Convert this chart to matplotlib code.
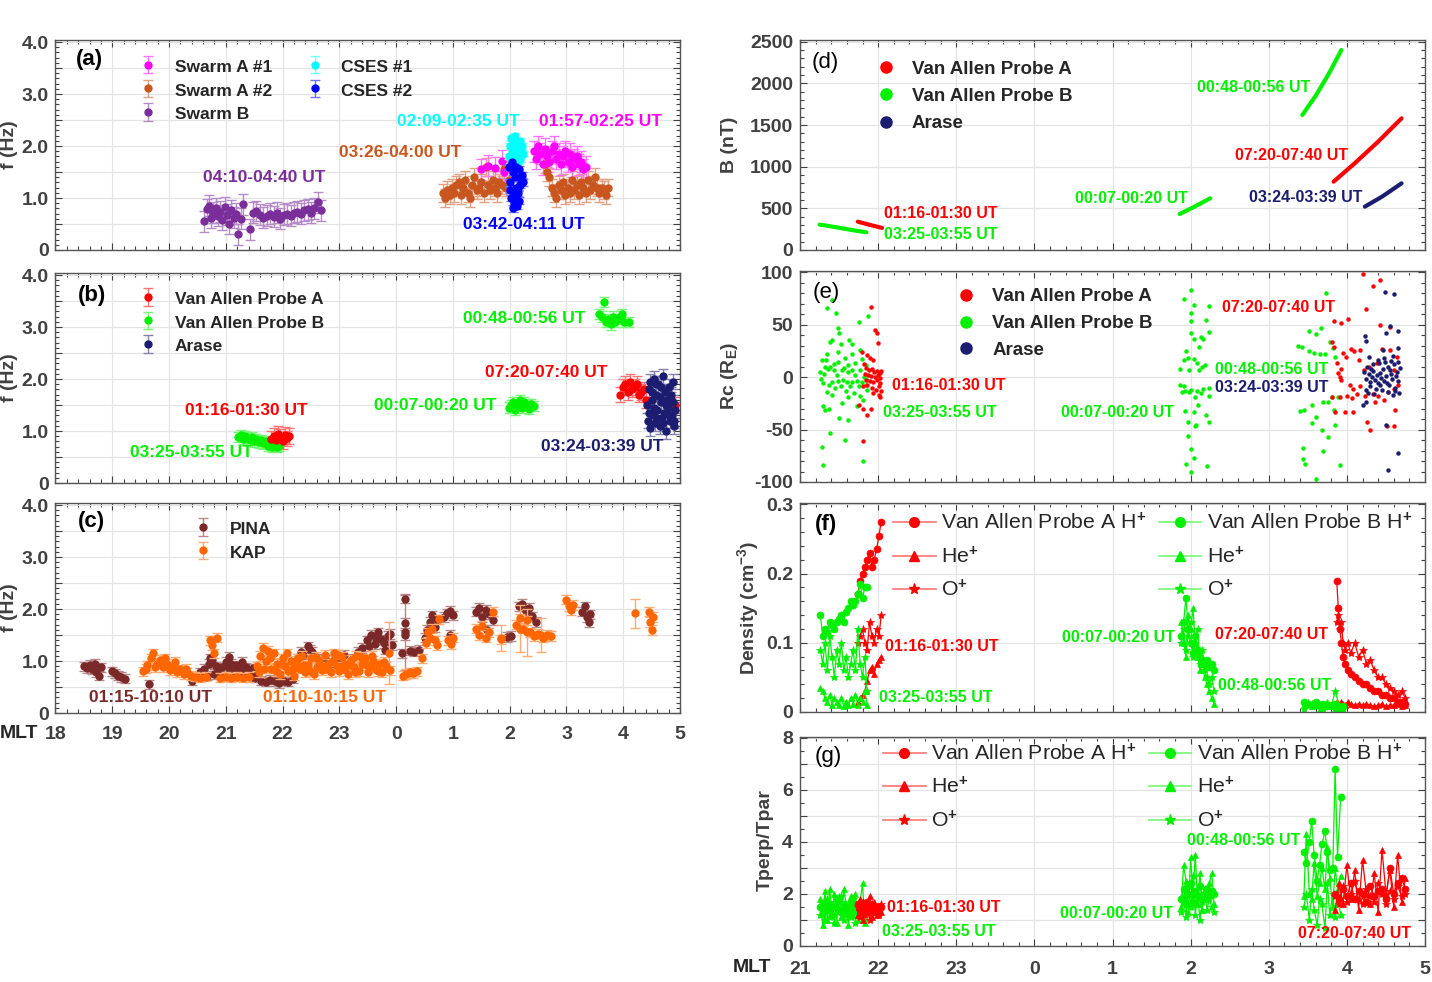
import matplotlib
matplotlib.use('Agg')
import matplotlib.pyplot as plt
import matplotlib.colors as mcolors
from matplotlib.lines import Line2D
from matplotlib.ticker import MultipleLocator, FuncFormatter

plt.rcParams['font.family'] = ['Liberation Sans', 'DejaVu Sans']
plt.rcParams['font.weight'] = 'bold'
plt.rcParams['mathtext.fontset'] = 'custom'
plt.rcParams['mathtext.rm'] = 'Liberation Sans'
plt.rcParams['mathtext.it'] = 'Liberation Sans:italic'
plt.rcParams['mathtext.bf'] = 'Liberation Sans:bold'
plt.rcParams['axes.linewidth'] = 1.0

# ---------------- colours ----------------
C_SA1 = '#FF00FF'
C_SA2 = '#C8561E'
C_SB = '#7A2E9A'
C_C1 = '#00FFFF'
C_C2 = '#0000FF'
C_VA = '#FF0000'
C_VB = '#00F000'
C_AR = '#1C1C70'
C_PINA = '#7B2828'
C_KAP = '#FF6600'

# ---------------- axis ticks ----------------
LEFT_TICKS = [18, 19, 20, 21, 22, 23, 24, 25, 26, 27, 28, 29]
LEFT_TICKLABELS = ['18', '19', '20', '21', '22', '23', '0', '1', '2', '3', '4', '5']
RIGHT_TICKS = [21, 22, 23, 24, 25, 26, 27, 28, 29]
RIGHT_TICKLABELS = ['21', '22', '23', '0', '1', '2', '3', '4', '5']

# ---------------- panel (a) : MLT (h, 24 = 0 MLT), f (Hz) ----------------
SB_X = [20.62, 20.66, 20.70, 20.74, 20.78, 20.82, 20.86, 20.90, 20.94, 20.98,
        21.02, 21.06, 21.10, 21.14, 21.18, 21.22, 21.26, 21.30, 21.42, 21.48,
        21.54, 21.60, 21.66, 21.72, 21.78, 21.84, 21.90, 21.96, 22.02, 22.08,
        22.14, 22.20, 22.26, 22.32, 22.38, 22.44, 22.50, 22.56, 22.62, 22.68]
SB_Y = [0.55, 0.78, 0.85, 0.62, 0.72, 0.80, 0.66, 0.74, 0.58, 0.82,
        0.68, 0.50, 0.76, 0.62, 0.70, 0.30, 0.60, 0.88, 0.40, 0.72,
        0.75, 0.68, 0.62, 0.66, 0.70, 0.64, 0.72, 0.60, 0.68, 0.70,
        0.66, 0.72, 0.74, 0.70, 0.76, 0.78, 0.72, 0.80, 0.92, 0.76]
SB_ERR = 0.2

SA2_X = [24.82, 24.86, 24.90, 24.94, 24.98, 25.02, 25.06, 25.10, 25.14, 25.18,
         25.22, 25.26, 25.30, 25.34, 25.38, 25.42, 25.46, 25.50, 25.54, 25.58,
         25.62, 25.66, 25.70, 25.74, 25.78, 25.82, 25.86, 25.90, 25.94, 25.98,
         26.62, 26.66, 26.70, 26.74, 26.78, 26.82, 26.86, 26.90, 26.94, 26.98,
         27.02, 27.06, 27.10, 27.14, 27.18, 27.22, 27.26, 27.30, 27.34, 27.38,
         27.42, 27.46, 27.50, 27.54, 27.58, 27.62, 27.66, 27.70, 27.74]
SA2_Y = [1.10, 1.00, 1.15, 1.05, 1.20, 1.10, 1.25, 1.30, 1.05, 1.20,
         1.35, 1.10, 1.00, 1.25, 1.40, 1.15, 1.20, 1.30, 1.10, 1.60,
         1.25, 1.15, 1.35, 1.20, 1.10, 1.30, 1.25, 1.55, 1.20, 1.35,
         1.65, 1.50, 1.40, 1.20, 1.10, 1.00, 1.25, 1.15, 1.30, 1.05,
         1.20, 1.10, 1.35, 1.15, 1.25, 1.05, 1.30, 1.20, 1.10, 1.35,
         1.15, 1.25, 1.40, 1.20, 1.10, 1.20, 1.15, 1.05, 1.20]
SA2_ERR = 0.17

SA1_X = [25.50, 25.62, 25.74, 25.86, 25.90,
         26.42, 26.46, 26.50, 26.54, 26.58, 26.62, 26.66, 26.70, 26.74, 26.78,
         26.82, 26.86, 26.90, 26.94, 26.98, 27.02, 27.06, 27.10, 27.14, 27.18,
         27.22, 27.26, 27.30, 27.34]
SA1_Y = [1.55, 1.62, 1.58, 1.72, 1.50,
         1.90, 1.75, 2.00, 1.85, 1.65, 1.95, 1.80, 1.70, 1.90, 2.00,
         1.75, 1.85, 1.65, 1.80, 1.90, 1.70, 1.85, 1.60, 1.75, 1.80,
         1.65, 1.70, 1.55, 1.60]
SA1_ERR = 0.2

C1_X = [25.98, 26.00, 26.02, 26.04, 26.06, 26.08, 26.10, 26.12, 26.14, 26.16,
        26.18, 26.20, 26.22, 26.24, 26.03, 26.07, 26.11, 26.15, 26.19]
C1_Y = [1.80, 2.00, 2.15, 1.90, 2.10, 1.85, 2.20, 1.95, 2.05, 1.75,
        2.10, 1.90, 2.00, 1.85, 1.70, 1.75, 1.80, 1.70, 1.75]
C1_ERR = 0.05

C2_X = [25.99, 26.01, 26.03, 26.05, 26.07, 26.09, 26.11, 26.13, 26.15, 26.17,
        26.19, 26.21, 26.23, 26.00, 26.04, 26.08, 26.12, 26.16, 26.20, 26.06,
        26.10, 26.14]
C2_Y = [1.60, 1.30, 1.00, 1.50, 0.90, 1.40, 1.20, 0.85, 1.10, 1.55,
        1.25, 1.45, 1.30, 1.15, 1.70, 1.05, 1.60, 0.95, 1.35, 0.80,
        1.00, 1.20]
C2_ERR = 0.06

# ---------------- panel (b) ----------------
VB1_X = [21.22, 21.26, 21.30, 21.34, 21.38, 21.42, 21.46, 21.50, 21.54, 21.58,
         21.62, 21.66, 21.70, 21.74, 21.78, 21.82, 21.86, 21.90, 21.94]
VB1_Y = [0.88, 0.92, 0.85, 0.90, 0.87, 0.83, 0.88, 0.80, 0.84, 0.78,
         0.82, 0.76, 0.80, 0.72, 0.76, 0.70, 0.74, 0.69, 0.72]
VA1_X = [21.80, 21.84, 21.88, 21.92, 21.96, 22.00, 22.04, 22.08, 22.12]
VA1_Y = [0.85, 0.90, 0.82, 0.95, 0.88, 0.80, 0.92, 0.86, 0.90]
VB2_X = [25.98, 26.02, 26.06, 26.10, 26.14, 26.18, 26.22, 26.26, 26.30, 26.34, 26.38, 26.42]
VB2_Y = [1.45, 1.50, 1.55, 1.40, 1.50, 1.60, 1.45, 1.55, 1.50, 1.42, 1.52, 1.48]
VB3_X = [27.58, 27.62, 27.66, 27.70, 27.74, 27.78, 27.82, 27.86, 27.90, 27.94, 27.98, 28.02, 28.10]
VB3_Y = [3.25, 3.20, 3.48, 3.10, 3.15, 3.05, 3.20, 3.10, 3.15, 3.20, 3.25, 3.10, 3.10]
VA2_X = [27.95, 28.00, 28.04, 28.08, 28.12, 28.16, 28.20, 28.24, 28.28, 28.32, 28.36, 28.40, 28.92]
VA2_Y = [1.70, 1.85, 1.90, 1.75, 1.95, 1.80, 1.85, 1.90, 1.70, 1.75, 1.80, 1.60, 1.50]
AR_X = [28.42, 28.44, 28.46, 28.48, 28.50, 28.52, 28.54, 28.56, 28.58, 28.60,
        28.62, 28.64, 28.66, 28.68, 28.70, 28.72, 28.74, 28.76, 28.78, 28.80,
        28.82, 28.84, 28.86, 28.88, 28.90, 28.92, 28.45, 28.50, 28.55, 28.60,
        28.65, 28.70, 28.75, 28.80, 28.85, 28.90, 28.47, 28.57, 28.67, 28.77, 28.87]
AR_Y = [1.50, 1.20, 1.80, 1.05, 1.60, 1.30, 2.00, 1.15, 1.70, 1.40,
        1.90, 1.10, 1.55, 1.25, 2.05, 1.35, 1.75, 1.00, 1.45, 1.85,
        1.20, 1.60, 1.30, 1.95, 1.10, 1.40, 1.35, 1.75, 1.45, 1.25,
        1.65, 1.15, 1.50, 1.30, 1.70, 1.20, 1.95, 1.90, 1.85, 1.60, 1.55]
VB_ERR = 0.1
VA_ERR = 0.15
AR_ERR = 0.15

# ---------------- panel (c) ----------------
PINA_X = [18.50, 18.55, 18.60, 18.65, 18.70, 18.72, 18.76, 18.80, 19.00, 19.05,
          19.10, 19.15, 19.22, 19.65, 20.40, 20.55, 20.62, 20.70, 20.76, 20.82,
          20.88, 20.94, 21.00, 21.06, 21.12, 21.18, 21.24, 21.30, 21.36, 21.42,
          21.48, 21.54, 21.50, 21.62, 21.70, 21.78, 21.86, 21.94, 22.02, 22.10,
          22.18, 22.20, 22.28, 22.36, 22.44, 22.52, 22.60, 22.68, 22.76, 22.84,
          22.92, 23.00, 23.08, 23.16, 23.24, 23.32, 23.40, 23.48, 23.55, 23.62,
          23.68, 23.74, 23.80, 23.86, 23.92, 24.15, 24.15, 24.15, 24.10, 24.25,
          24.32, 24.40, 24.50, 24.55, 24.60, 24.64, 24.68, 24.72, 24.85, 24.90,
          24.95, 25.00, 24.94, 25.40, 25.46, 25.52, 25.58, 25.64, 25.70, 25.60,
          25.96, 26.02, 26.16, 26.22, 26.28, 26.34, 26.40, 26.46, 27.28, 27.32,
          27.36, 27.40, 27.42, 20.66, 20.80, 20.98, 21.15, 21.33, 20.72, 21.05,
          21.28, 21.10, 22.32, 22.48, 23.52, 23.64, 23.78, 23.90]
PINA_Y = [0.90, 0.86, 0.93, 0.84, 0.95, 0.78, 0.72, 0.88, 0.80, 0.76,
          0.72, 0.69, 0.66, 0.55, 0.62, 0.78, 0.85, 0.95, 1.02, 0.90,
          0.80, 0.88, 0.98, 0.86, 0.78, 0.92, 0.84, 0.76, 0.88, 0.80,
          0.86, 0.76, 0.68, 0.62, 0.60, 0.64, 0.61, 0.58, 0.62, 0.60,
          0.66, 0.95, 1.05, 1.12, 1.28, 1.18, 1.05, 0.95, 1.02, 0.92,
          1.08, 0.98, 1.12, 0.90, 1.05, 1.18, 1.25, 1.40, 1.50, 1.32,
          1.55, 1.42, 1.22, 1.48, 1.30, 2.20, 1.73, 1.50, 1.15, 1.20,
          1.18, 1.22, 1.45, 1.60, 1.75, 1.88, 1.65, 1.80, 1.85, 1.92,
          1.96, 1.88, 1.50, 1.95, 2.02, 1.85, 1.98, 1.90, 1.78, 1.60,
          1.46, 1.48, 2.05, 2.10, 1.96, 2.02, 1.86, 1.75, 1.95, 2.05,
          1.85, 1.75, 1.90, 0.72, 0.75, 0.72, 0.70, 0.72, 1.05, 1.08,
          0.98, 0.95, 1.18, 1.22, 1.28, 1.45, 1.35, 1.52]
PINA_ERR = 0.09
PINA_WIDE_X = [24.15]
PINA_WIDE_Y = [1.55]
PINA_WIDE_E = [0.72]

KAP_X = [19.55, 19.62, 19.68, 19.72, 19.78, 19.84, 19.90, 19.96, 20.02, 20.08,
         20.14, 20.20, 20.26, 20.32, 20.38, 20.45, 20.55, 20.65, 20.72, 20.76,
         20.80, 20.85, 20.90, 21.00, 21.10, 21.20, 21.30, 21.40, 21.55, 21.60,
         21.65, 21.70, 21.75, 21.80, 21.85, 21.90, 21.95, 22.00, 22.05, 22.10,
         22.15, 22.20, 22.25, 22.30, 22.35, 22.40, 22.45, 22.50, 22.55, 22.60,
         22.65, 22.70, 22.75, 22.80, 22.85, 22.90, 22.95, 23.00, 23.05, 23.10,
         23.15, 23.20, 23.25, 23.30, 23.35, 23.40, 23.45, 23.50, 23.55, 23.60,
         23.65, 23.70, 23.75, 23.82, 23.90, 24.12, 24.18, 24.24, 24.30, 24.36,
         24.45, 24.52, 24.56, 24.60, 24.64, 24.68, 24.72, 24.75, 24.92, 24.96,
         25.00, 25.40, 25.46, 25.52, 25.58, 25.64, 25.70, 25.85, 26.12, 26.18,
         26.24, 26.30, 26.36, 26.42, 26.50, 26.58, 26.66, 26.72, 27.00, 27.04,
         27.08, 27.12, 28.45, 28.48, 28.50, 28.52, 21.58, 21.68, 21.78, 21.88,
         21.98, 22.08, 22.18, 22.28, 22.38, 22.48, 22.58, 22.68, 22.78, 22.88,
         22.98, 23.08, 23.18, 23.28, 23.38, 23.48, 23.58, 23.68, 23.78, 19.60,
         19.75, 19.92, 20.10, 20.30]
KAP_Y = [0.80, 0.92, 1.05, 1.15, 0.95, 1.02, 0.88, 0.95, 0.82, 0.90,
         0.78, 0.84, 0.75, 0.78, 0.72, 0.70, 0.68, 0.70, 1.40, 1.30,
         1.15, 1.45, 0.68, 0.70, 0.68, 0.70, 0.68, 0.69, 0.90, 1.10,
         1.25, 1.00, 1.20, 0.85, 1.15, 0.95, 0.75, 1.05, 0.90, 0.80,
         1.00, 0.72, 0.95, 0.85, 1.10, 0.78, 0.92, 1.05, 0.75, 0.88,
         1.00, 0.82, 1.12, 0.95, 0.78, 1.15, 0.90, 0.80, 1.08, 0.95,
         0.75, 1.02, 0.88, 1.10, 0.80, 0.95, 1.05, 0.78, 0.90, 1.00,
         0.85, 0.95, 0.78, 0.90, 0.82, 0.72, 0.75, 0.78, 0.76, 0.80,
         1.05, 1.35, 1.55, 1.45, 1.62, 1.40, 1.30, 1.80, 1.40, 1.32,
         1.45, 1.62, 1.50, 1.68, 1.45, 1.55, 1.95, 1.42, 1.70, 1.82,
         1.62, 1.78, 1.55, 1.48, 1.52, 1.45, 1.50, 1.48, 2.18, 2.05,
         1.98, 2.08, 1.95, 1.75, 1.60, 1.85, 0.78, 0.85, 1.05, 0.80,
         0.95, 1.15, 0.85, 1.05, 0.92, 0.80, 1.08, 0.90, 0.85, 1.00,
         1.12, 0.85, 0.92, 0.78, 1.08, 0.92, 1.10, 0.80, 0.98, 0.85,
         0.88, 1.05, 0.98, 0.85]
KAP_ERR = 0.09
KAP_WIDE_X = [23.88, 25.85, 26.18, 26.30, 26.55, 28.20]
KAP_WIDE_Y = [1.15, 1.45, 1.62, 1.55, 1.50, 1.92]
KAP_WIDE_E = [0.60, 0.25, 0.45, 0.45, 0.32, 0.28]

# ---------------- panel (d) : B (nT) ----------------
VBD1_X = [21.25, 21.45, 21.65, 21.85]
VBD1_Y = [305, 275, 242, 212]
VAD1_X = [21.74, 21.90, 22.05]
VAD1_Y = [340, 300, 265]
VBD2_X = [25.86, 26.05, 26.25]
VBD2_Y = [432, 520, 620]
VBD3_X = [27.43, 27.60, 27.76, 27.93]
VBD3_Y = [1620, 1850, 2100, 2400]
VAD2_X = [27.83, 28.10, 28.40, 28.70]
VAD2_Y = [820, 1040, 1300, 1580]
ARD_X = [28.23, 28.45, 28.70]
ARD_Y = [520, 640, 800]

# ---------------- panel (e) : Rc (RE) ----------------
VBE1_X = [21.41, 21.35, 21.46, 21.76, 21.87, 21.49, 21.50, 21.38, 21.41, 21.63,
          21.67, 21.52, 21.77, 21.49, 21.28, 21.33, 21.39, 21.32, 21.44, 21.49,
          21.56, 21.61, 21.67, 21.71, 21.79, 21.84, 21.77, 21.62, 21.54, 21.44,
          21.36, 21.30, 21.37, 21.41, 21.49, 21.55, 21.60, 21.67, 21.73, 21.79,
          21.86, 21.45, 21.53, 21.64, 21.75, 21.84, 21.35, 21.41, 21.62, 21.77,
          21.86, 21.29, 21.37, 21.32, 21.54, 21.73, 21.50, 21.62, 21.39, 21.57,
          21.28, 21.29, 21.81, 21.25, 21.27, 21.31, 21.58, 21.66, 21.70, 21.82,
          21.47, 21.34, 21.59, 21.69, 21.80]
VBE1_Y = [73, 66, 61, 52, 58, 47, 42, 33, 35, 35,
          31, 31, 26, 24, 16, 16, 10, 10, 12, 14,
          9, 11, 7, 13, 17, 11, 7, 5, 7, 7,
          8, -6, -8, -5, -4, -3, -5, -5, -4, -5,
          -3, -10, -9, -9, -9, -8, -14, -17, -19, -18,
          -12, -28, -30, -31, -25, -28, -39, -41, -53, -60,
          -67, -84, -80, 5, -2, 3, 18, 22, 2, 0,
          2, 22, -13, -15, -22]
VAE1_X = [21.91, 21.96, 21.98, 22.00, 21.79, 21.86, 21.90, 21.93, 21.85, 21.88,
          21.92, 21.95, 21.99, 22.02, 22.04, 21.83, 21.87, 21.91, 21.96, 22.00,
          22.03, 21.84, 21.89, 21.94, 21.98, 22.02, 21.86, 21.92, 21.97, 22.01,
          22.04, 21.94, 22.01, 22.03, 21.75, 21.80, 21.91, 21.86, 21.81, 21.80,
          21.82]
VAE1_Y = [67, 45, 42, 32, 24, 21, 18, 16, 9, 7,
          8, 5, 6, 4, 6, 3, 2, 1, 0, 2,
          -1, -3, -4, -5, -3, -6, -8, -10, -12, -9,
          -13, -15, -17, -19, -27, -30, -30, -36, -61, -9,
          12]
VBE2_X = [26.00, 25.91, 26.04, 26.23, 26.01, 26.00, 26.20, 26.23, 26.00, 26.04,
          26.13, 26.16, 26.11, 25.94, 25.91, 25.96, 26.04, 26.08, 26.14, 26.19,
          25.87, 25.98, 26.11, 25.87, 25.92, 25.89, 25.93, 25.98, 26.01, 26.08,
          26.13, 26.16, 26.24, 26.06, 26.24, 26.09, 25.93, 26.04, 26.20, 25.97,
          26.23, 26.07, 26.06, 25.96, 26.01, 26.04, 25.94, 26.21, 26.01]
VBE2_Y = [83, 74, 69, 68, 61, 53, 54, 43, 42, 36,
          38, 36, 29, 25, 16, 18, 17, 13, 10, 11,
          8, 7, 7, -8, -9, -14, -13, -14, -12, -13,
          -15, -11, -10, -19, -18, -27, -32, -33, -36, -43,
          -43, -46, -47, -56, -69, -77, -83, -85, -90]
VBE3_X = [27.73, 27.51, 27.60, 27.67, 27.42, 27.51, 27.58, 27.65, 27.72, 27.79,
          27.82, 27.85, 27.81, 27.89, 27.70, 27.76, 27.55, 27.45, 27.83, 27.61,
          27.55, 27.85, 27.68, 27.76, 27.44, 27.70, 27.44, 27.47, 27.91, 27.61,
          27.38, 27.40]
VBE3_Y = [80, 44, 41, 47, 29, 25, 23, 22, 22, 33,
          28, 19, -19, -19, -24, -24, -27, -31, -31, -38,
          -44, -46, -50, -57, -68, -70, -78, -83, -84, -97,
          30, -32]
VAE2_X = [28.21, 28.34, 28.43, 28.25, 27.83, 27.93, 28.02, 28.42, 28.55, 27.81,
          27.83, 27.95, 28.05, 28.09, 28.17, 28.45, 28.15, 27.99, 27.87, 27.92,
          27.88, 27.91, 27.93, 28.04, 28.08, 28.17, 27.81, 27.91, 28.00, 28.06,
          28.13, 28.23, 28.34, 28.40, 28.53, 28.60, 28.66, 27.85, 27.98, 28.08,
          28.36, 28.47, 28.26, 28.51, 28.30, 28.60, 28.62, 28.64, 28.55, 28.28,
          28.22, 28.38, 28.60]
VAE2_Y = [98, 87, 92, 65, 53, 51, 55, 50, 48, 33,
          29, 23, 27, 25, 26, 27, 16, 19, 13, 8,
          4, 0, -3, -8, -11, -9, -19, -19, -18, -20,
          -16, -18, -16, -18, -14, -11, -8, -33, -33, -33,
          -24, -22, -43, -47, -50, -47, -31, 19, 26, 10,
          7, 13, 7]
ARE_X = [28.49, 28.60, 28.55, 28.50, 28.66, 28.23, 28.25, 28.46, 28.65, 28.59,
         28.28, 28.40, 28.20, 28.25, 28.50, 28.66, 28.52,
         28.22, 28.25, 28.28, 28.30, 28.32, 28.34, 28.36, 28.38, 28.40, 28.42,
         28.44, 28.46, 28.48, 28.50, 28.52, 28.54, 28.56, 28.58, 28.60, 28.62,
         28.64, 28.66, 28.68, 28.26, 28.29, 28.33, 28.37, 28.41, 28.45, 28.49,
         28.53, 28.57, 28.61, 28.65, 28.35, 28.47, 28.59, 28.24, 28.31, 28.43,
         28.51, 28.55, 28.63, 28.67, 28.27]
ARE_Y = [81, 79, 49, 42, 44, 39, 34, 26, 28, 20,
         19, 16, -27, -24, -46, -72, -89,
         5, -2, 3, -5, 0, 6, -3, 2, -6, 4,
         -1, 8, -4, 1, 10, -8, 3, -2, 12, -10,
         5, -4, 9, 10, -9, 12, -11, 13, -12, 14,
         -14, 15, -13, 14, -16, 18, -17, -12, 8, -8,
         -6, 7, 1, -15, -15]

# ---------------- panel (f) : density (cm^-3) ----------------
VB1T_X = [21.26, 21.29, 21.32, 21.35, 21.38, 21.41, 21.44, 21.47, 21.50, 21.53,
          21.56, 21.59, 21.62, 21.65, 21.68, 21.71, 21.74, 21.77, 21.80, 21.83, 21.86]
VBF1_H = [0.14, 0.11, 0.12, 0.115, 0.13, 0.125, 0.12, 0.13, 0.135, 0.14,
          0.13, 0.145, 0.15, 0.16, 0.155, 0.16, 0.17, 0.185, 0.165, 0.18, 0.18]
VBF1_HE = [0.035, 0.03, 0.02, 0.015, 0.025, 0.01, 0.02, 0.015, 0.01, 0.02,
           0.008, 0.015, 0.01, 0.02, 0.012, 0.025, 0.01, 0.02, 0.015, 0.03, 0.01]
VBF1_O = [0.09, 0.07, 0.10, 0.06, 0.11, 0.08, 0.05, 0.09, 0.07, 0.10,
          0.06, 0.08, 0.05, 0.07, 0.09, 0.06, 0.12, 0.07, 0.05, 0.08, 0.03]
VA1T_X = [21.74, 21.77, 21.80, 21.83, 21.86, 21.89, 21.92, 21.95, 21.98, 22.01, 22.04]
VAF1_H = [0.17, 0.19, 0.20, 0.21, 0.22, 0.23, 0.21, 0.22, 0.235, 0.255, 0.275]
VAF1_HE = [0.015, 0.02, 0.025, 0.03, 0.045, 0.06, 0.065, 0.055, 0.07, 0.075, 0.08]
VAF1_O = [0.10, 0.11, 0.12, 0.10, 0.09, 0.13, 0.11, 0.10, 0.12, 0.11, 0.14]
VB2T_X = [25.88, 25.91, 25.94, 25.97, 26.00, 26.03, 26.06, 26.09, 26.12, 26.15,
          26.18, 26.21, 26.24, 26.27, 26.30]
VBF2_H = [0.11, 0.13, 0.165, 0.12, 0.10, 0.085, 0.11, 0.09, 0.08, 0.075,
          0.07, 0.075, 0.065, 0.07, 0.06]
VBF2_HE = [0.13, 0.10, 0.08, 0.14, 0.12, 0.15, 0.10, 0.08, 0.06, 0.07,
           0.05, 0.04, 0.03, 0.02, 0.012]
VBF2_O = [0.10, 0.12, 0.09, 0.11, 0.13, 0.08, 0.10, 0.12, 0.07, 0.09,
          0.06, 0.05, 0.04, 0.05, 0.03]
VBF3_X = [27.45, 27.50, 27.55, 27.60, 27.65, 27.70, 27.75, 27.80, 27.85, 27.90, 27.95]
VBF3_H = [0.015, 0.012, 0.01, 0.015, 0.01, 0.012, 0.008, 0.01, 0.012, 0.005, 0.008]
VBF3_HE = [0.01, 0.015, 0.008, 0.012, 0.005, 0.01, 0.015, 0.008, 0.005, 0.01, 0.003]
VBF3_O = [0.005, 0.01, 0.012, 0.008, 0.01, 0.005, 0.012, 0.008, 0.03, 0.01, 0.005]
VAF2_X = [27.87, 27.89, 27.91, 27.93, 27.95, 27.98, 28.01, 28.05, 28.10, 28.15,
          28.20, 28.25, 28.30, 28.35, 28.40, 28.45, 28.50, 28.55, 28.60, 28.65,
          28.70, 28.75]
VAF2_H = [0.19, 0.15, 0.12, 0.10, 0.08, 0.07, 0.06, 0.055, 0.05, 0.045,
          0.04, 0.04, 0.035, 0.03, 0.03, 0.025, 0.025, 0.02, 0.02, 0.015,
          0.015, 0.012]
VAF2_HE = [0.015, 0.012, 0.01, 0.015, 0.012, 0.01, 0.015, 0.012, 0.01, 0.012,
           0.01, 0.012, 0.01, 0.008, 0.01, 0.012, 0.008, 0.01, 0.01, 0.012,
           0.008, 0.01]
VAF2_O = [0.13, 0.14, 0.12, 0.13, 0.10, 0.09, 0.10, 0.085, 0.10, 0.08,
          0.09, 0.07, 0.075, 0.06, 0.05, 0.05, 0.04, 0.035, 0.03, 0.025,
          0.03, 0.02]

# ---------------- panel (g) : Tperp/Tpar ----------------
VBG1_H = [1.5, 1.3, 1.7, 1.4, 1.6, 1.2, 1.5, 1.8, 1.4, 1.3, 1.6, 1.5, 1.2, 1.7, 1.4, 1.5, 1.3, 1.6, 1.4, 1.5, 1.3]
VBG1_HE = [1.8, 0.8, 2.1, 1.0, 2.2, 1.3, 2.0, 0.9, 1.9, 1.1, 2.2, 1.6, 0.8, 1.9, 1.2, 2.0, 1.0, 1.7, 2.4, 0.9, 1.5]
VBG1_O = [1.2, 1.6, 1.0, 1.8, 1.1, 1.5, 0.9, 1.7, 1.3, 1.9, 1.0, 1.4, 1.6, 1.1, 1.8, 0.9, 1.5, 1.2, 1.7, 1.0, 1.4]
VAG1_H = [1.6, 1.4, 1.5, 1.3, 1.7, 1.4, 1.6, 1.3, 1.5, 1.4, 1.5]
VAG1_HE = [1.2, 1.8, 1.0, 1.6, 1.3, 1.9, 1.1, 1.7, 1.2, 1.5, 1.3]
VAG1_O = [1.5, 1.1, 1.7, 1.2, 1.5, 1.0, 1.6, 1.3, 1.4, 1.2, 1.6]
VBG2_H = [1.8, 2.2, 1.6, 2.0, 2.4, 1.7, 2.1, 1.9, 2.3, 1.8, 2.0, 2.2, 1.9, 2.1, 2.0]
VBG2_HE = [1.5, 3.1, 2.5, 1.3, 3.4, 2.0, 3.5, 1.6, 2.8, 1.4, 2.2, 1.8, 2.4, 2.8, 1.6]
VBG2_O = [1.3, 1.9, 1.1, 2.3, 1.5, 2.7, 1.2, 2.0, 1.0, 1.7, 2.2, 1.4, 1.8, 1.5, 1.3]
VBG3_X = [27.45, 27.48, 27.52, 27.55, 27.58, 27.62, 27.65, 27.68, 27.72, 27.75,
          27.78, 27.82, 27.85, 27.88, 27.92]
VBG3_H = [3.6, 3.2, 4.0, 4.8, 3.5, 2.5, 3.1, 3.9, 4.4, 3.6, 2.9, 3.0, 6.8, 3.4, 5.7]
VBG3_HE = [1.9, 4.3, 2.0, 1.8, 3.2, 1.9, 2.4, 3.0, 2.2, 3.8, 2.6, 1.5, 3.0, 2.2, 2.7]
VBG3_O = [1.5, 2.0, 1.0, 2.2, 1.4, 0.8, 1.8, 1.6, 0.7, 2.4, 1.2, 2.0, 1.1, 1.9, 1.2]
VAG2_X = [27.85, 27.90, 27.95, 28.00, 28.05, 28.10, 28.15, 28.20, 28.25, 28.30,
          28.35, 28.40, 28.45, 28.50, 28.55, 28.60, 28.65, 28.70, 28.75]
VAG2_H = [2.0, 1.8, 2.2, 1.9, 2.4, 1.8, 2.1, 2.0, 1.7, 2.3, 1.9, 2.1, 2.2, 1.8, 3.0, 2.0, 2.4, 2.6, 2.2]
VAG2_HE = [1.4, 2.4, 1.6, 3.1, 1.8, 2.9, 1.4, 3.3, 2.0, 1.6, 2.8, 1.3, 3.7, 2.0, 2.9, 1.5, 3.5, 1.7, 2.6]
VAG2_O = [1.9, 1.6, 2.3, 1.7, 2.0, 2.5, 1.8, 1.6, 2.2, 1.9, 1.7, 2.4, 2.0, 1.6, 2.1, 1.8, 2.3, 1.9, 2.0]

TICK_C = '#404040'
TEXT_C = '#262626'
GRID_C = '#E4E4E4'
W, H = 1432, 982


def light(c, f=0.45):
    r, g, b = mcolors.to_rgb(c)
    return (r + (1 - r) * f, g + (1 - g) * f, b + (1 - b) * f)


def pair(x, y):
    n = min(len(x), len(y))
    return list(x[:n]), list(y[:n])


def ebar(ax, x, y, e, c, ms=5, z=2):
    x, y = pair(x, y)
    if not isinstance(e, (int, float)):
        e = list(e[:len(x)])
    return ax.errorbar(x, y, yerr=e, fmt='o', ms=ms, color=c, mfc=c, mec=c,
                       ecolor=light(c), elinewidth=1.0, capsize=3.5, capthick=1.0, zorder=z)


def axes_px(left, top, right, bottom):
    return [left / W, 1 - bottom / H, (right - left) / W, (bottom - top) / H]


def style(ax, xlim, ticks, ticklabels, show_labels, ylim, ymaj, ymin, yfmt, xpad=8):
    ax.set_xlim(*xlim)
    ax.set_ylim(*ylim)
    ax.set_xticks(ticks)
    ax.set_xticklabels(ticklabels if show_labels else [''] * len(ticks))
    ax.xaxis.set_minor_locator(MultipleLocator(0.2))
    ax.yaxis.set_major_locator(MultipleLocator(ymaj))
    ax.yaxis.set_minor_locator(MultipleLocator(ymin))
    ax.yaxis.set_major_formatter(FuncFormatter(yfmt))
    ax.grid(True, which='major', color=GRID_C, lw=0.9)
    ax.set_axisbelow(True)
    ax.tick_params(which='both', direction='in', top=True, right=True,
                   colors=TICK_C, labelsize=14, width=0.8)
    ax.tick_params(which='major', length=5)
    ax.tick_params(which='minor', length=3)
    ax.tick_params(axis='x', pad=xpad)
    ax.tick_params(axis='y', pad=5)
    for s in ax.spines.values():
        s.set_color('#555555')


def fmt_half(v, p):
    if abs(v) < 1e-9:
        return '0'
    if abs(v - round(v)) < 1e-6:
        return '%.1f' % v
    return ''


def fmt_int(v, p):
    return '%d' % round(v)


def fmt_tenth(v, p):
    if abs(v) < 1e-9:
        return '0'
    return '%.1f' % v


def fmt_even(v, p):
    r = round(v)
    if abs(v - r) < 1e-6 and r % 2 == 0:
        return '%d' % r
    return ''


def note(ax, x, y, s, c, size=12.5):
    ax.text(x, y, s, color=c, ha='center', va='center', fontsize=size, fontweight='bold', zorder=5)


fig = plt.figure(figsize=(W / 100, H / 100), dpi=100)

ax_a = fig.add_axes(axes_px(55.5, 40, 680, 250))
ax_b = fig.add_axes(axes_px(55.5, 273, 680, 483))
ax_c = fig.add_axes(axes_px(55.5, 503, 680, 713))
ax_d = fig.add_axes(axes_px(800, 40, 1425, 250))
ax_e = fig.add_axes(axes_px(800, 271, 1425, 482))
ax_f = fig.add_axes(axes_px(800, 503, 1425, 712))
ax_g = fig.add_axes(axes_px(800, 737, 1425, 946))

for ax, show in [(ax_a, False), (ax_b, False), (ax_c, True)]:
    style(ax, (18, 29), LEFT_TICKS, LEFT_TICKLABELS, show, (0, 4.04), 0.5, 0.1, fmt_half, xpad=9.5)

style(ax_d, (21, 29), RIGHT_TICKS, RIGHT_TICKLABELS, False, (0, 2520), 500, 100, fmt_int)
style(ax_e, (21, 29), RIGHT_TICKS, RIGHT_TICKLABELS, False, (-100, 101), 50, 10, fmt_int)
style(ax_f, (21, 29), RIGHT_TICKS, RIGHT_TICKLABELS, False, (0, 0.302), 0.1, 0.02, fmt_tenth)
style(ax_g, (21, 29), RIGHT_TICKS, RIGHT_TICKLABELS, True, (0, 8.02), 1, 0.5, fmt_even, xpad=11)

# ---------- (a) ----------
h_sb = ebar(ax_a, SB_X, SB_Y, SB_ERR, C_SB)
h_sa2 = ebar(ax_a, SA2_X, SA2_Y, SA2_ERR, C_SA2)
h_sa1 = ebar(ax_a, SA1_X, SA1_Y, SA1_ERR, C_SA1)
h_c1 = ebar(ax_a, C1_X, C1_Y, C1_ERR, C_C1, z=3)
h_c2 = ebar(ax_a, C2_X, C2_Y, C2_ERR, C_C2, z=3)
leg_kw = dict(ncol=2, loc='upper left', frameon=False, fontsize=12.5, handlelength=1.5,
              handleheight=1.2, handletextpad=0.8, columnspacing=1.7, labelspacing=0.33,
              borderaxespad=0, borderpad=0, labelcolor=TEXT_C)
ax_a.legend([h_sa1, h_sa2, h_sb, h_c1, h_c2],
            ['Swarm A #1', 'Swarm A #2', 'Swarm B', 'CSES #1', 'CSES #2'],
            bbox_to_anchor=(0.127, 0.917), **leg_kw)
note(ax_a, 21.68, 1.40, '04:10-04:40 UT', C_SB)
note(ax_a, 24.07, 1.87, '03:26-04:00 UT', C_SA2)
note(ax_a, 25.10, 2.48, '02:09-02:35 UT', C_C1)
note(ax_a, 27.60, 2.48, '01:57-02:25 UT', C_SA1)
note(ax_a, 26.25, 0.50, '03:42-04:11 UT', C_C2)

# ---------- (b) ----------
h_vb = ebar(ax_b, VB1_X, VB1_Y, VB_ERR, C_VB)
h_va = ebar(ax_b, VA1_X, VA1_Y, VA_ERR, C_VA)
ebar(ax_b, VB2_X, VB2_Y, VB_ERR, C_VB)
ebar(ax_b, VB3_X, VB3_Y, VB_ERR, C_VB)
ebar(ax_b, VA2_X, VA2_Y, VA_ERR, C_VA)
h_ar = ebar(ax_b, AR_X, AR_Y, AR_ERR, C_AR)
ax_b.legend([h_va, h_vb, h_ar], ['Van Allen Probe A', 'Van Allen Probe B', 'Arase'],
            bbox_to_anchor=(0.127, 0.921), **dict(leg_kw, ncol=1))
note(ax_b, 21.36, 1.40, '01:16-01:30 UT', C_VA)
note(ax_b, 20.39, 0.58, '03:25-03:55 UT', C_VB)
note(ax_b, 24.69, 1.49, '00:07-00:20 UT', C_VB)
note(ax_b, 26.25, 3.17, '00:48-00:56 UT', C_VB)
note(ax_b, 26.64, 2.13, '07:20-07:40 UT', C_VA)
note(ax_b, 27.63, 0.71, '03:24-03:39 UT', C_AR)

# ---------- (c) ----------
h_pina = ebar(ax_c, PINA_X, PINA_Y, PINA_ERR, C_PINA)
ebar(ax_c, PINA_WIDE_X, PINA_WIDE_Y, PINA_WIDE_E, C_PINA)
h_kap = ebar(ax_c, KAP_X, KAP_Y, KAP_ERR, C_KAP, z=3)
ebar(ax_c, KAP_WIDE_X, KAP_WIDE_Y, KAP_WIDE_E, C_KAP, z=3)
ax_c.legend([h_pina, h_kap], ['PINA', 'KAP'],
            bbox_to_anchor=(0.215, 0.921), **dict(leg_kw, ncol=1))
note(ax_c, 19.68, 0.29, '01:15-10:10 UT', C_PINA)
note(ax_c, 22.74, 0.29, '01:10-10:15 UT', C_KAP)

# ---------- (d) ----------
for xs, ys, c in [(VBD1_X, VBD1_Y, C_VB), (VAD1_X, VAD1_Y, C_VA), (VBD2_X, VBD2_Y, C_VB),
                  (VBD3_X, VBD3_Y, C_VB), (VAD2_X, VAD2_Y, C_VA), (ARD_X, ARD_Y, C_AR)]:
    ax_d.plot(xs, ys, color=c, lw=3, solid_capstyle='round')
dot_handles = [Line2D([0], [0], ls='none', marker='o', ms=8, color=c) for c in (C_VA, C_VB, C_AR)]
dleg = dict(loc='upper left', frameon=False, fontsize=13.5, handlelength=0.8, handletextpad=1.0,
            labelspacing=0.54, borderaxespad=0, borderpad=0, labelcolor=TEXT_C)
ax_d.legend(dot_handles, ['Van Allen Probe A', 'Van Allen Probe B', 'Arase'],
            bbox_to_anchor=(0.125, 0.902), **dleg)
note(ax_d, 22.80, 432, '01:16-01:30 UT', C_VA, 11.5)
note(ax_d, 22.80, 180, '03:25-03:55 UT', C_VB, 11.5)
note(ax_d, 25.24, 612, '00:07-00:20 UT', C_VB, 11.5)
note(ax_d, 26.81, 1944, '00:48-00:56 UT', C_VB, 11.5)
note(ax_d, 27.29, 1140, '07:20-07:40 UT', C_VA, 11.5)
note(ax_d, 27.47, 624, '03:24-03:39 UT', C_AR, 11.5)

# ---------- (e) ----------
for xs, ys, c in [(VBE1_X, VBE1_Y, C_VB), (VAE1_X, VAE1_Y, C_VA), (VBE2_X, VBE2_Y, C_VB),
                  (VBE3_X, VBE3_Y, C_VB), (VAE2_X, VAE2_Y, C_VA), (ARE_X, ARE_Y, C_AR)]:
    px, py = pair(xs, ys)
    ax_e.plot(px, py, ls='none', marker='o', ms=3.2, color=c, mew=0)
ax_e.legend(dot_handles, ['Van Allen Probe A', 'Van Allen Probe B', 'Arase'],
            bbox_to_anchor=(0.254, 0.918), **dict(dleg, labelspacing=0.51))
note(ax_e, 22.90, -8.5, '01:16-01:30 UT', C_VA, 11.5)
note(ax_e, 22.79, -34, '03:25-03:55 UT', C_VB, 11.5)
note(ax_e, 25.06, -34, '00:07-00:20 UT', C_VB, 11.5)
note(ax_e, 27.04, 7.6, '00:48-00:56 UT', C_VB, 11.5)
note(ax_e, 27.04, -10.4, '03:24-03:39 UT', C_AR, 11.5)
note(ax_e, 27.12, 66.5, '07:20-07:40 UT', C_VA, 11.5)

# ---------- (f) & (g) ----------
MARK = [('o', 5), ('^', 5), ('*', 6)]


def ions(ax, x, series, c):
    for (m, ms), y in zip(MARK, series):
        px, py = pair(x, y)
        ax.plot(px, py, color=c, lw=0.9, marker=m, ms=ms, mfc=c, mec=c, mew=0.5)


ions(ax_f, VA1T_X, [VAF1_H, VAF1_HE, VAF1_O], C_VA)
ions(ax_f, VAF2_X, [VAF2_H, VAF2_HE, VAF2_O], C_VA)
ions(ax_f, VB1T_X, [VBF1_H, VBF1_HE, VBF1_O], C_VB)
ions(ax_f, VB2T_X, [VBF2_H, VBF2_HE, VBF2_O], C_VB)
ions(ax_f, VBF3_X, [VBF3_H, VBF3_HE, VBF3_O], C_VB)

ions(ax_g, VB1T_X, [VBG1_H, VBG1_HE, VBG1_O], C_VB)
ions(ax_g, VB2T_X, [VBG2_H, VBG2_HE, VBG2_O], C_VB)
ions(ax_g, VBG3_X, [VBG3_H, VBG3_HE, VBG3_O], C_VB)
ions(ax_g, VA1T_X, [VAG1_H, VAG1_HE, VAG1_O], C_VA)
ions(ax_g, VAG2_X, [VAG2_H, VAG2_HE, VAG2_O], C_VA)


def ion_handles():
    hs = []
    for c in (C_VA, C_VB):
        for m, ms in MARK:
            hs.append(Line2D([0], [0], color=light(c, 0.45), lw=1.2, marker=m,
                             ms=ms + 2, mfc=c, mec=c))
    return hs


ION_LABELS = ['Van Allen Probe A H$^{+}$', 'He$^{+}$', 'O$^{+}$',
              'Van Allen Probe B H$^{+}$', 'He$^{+}$', 'O$^{+}$']
fleg = dict(ncol=2, loc='upper left', frameon=False, handlelength=2.0, handletextpad=0.25,
            columnspacing=0.6, labelspacing=0.57, borderaxespad=0, borderpad=0,
            labelcolor=TEXT_C, prop={'size': 15.3, 'weight': 'normal'})
ax_f.legend(ion_handles(), ION_LABELS, bbox_to_anchor=(0.149, 0.955), **fleg)
ax_g.legend(ion_handles(), ION_LABELS, bbox_to_anchor=(0.133, 0.972), **fleg)

note(ax_f, 22.81, 0.095, '01:16-01:30 UT', C_VA, 11.5)
note(ax_f, 22.74, 0.021, '03:25-03:55 UT', C_VB, 11.5)
note(ax_f, 25.07, 0.108, '00:07-00:20 UT', C_VB, 11.5)
note(ax_f, 27.04, 0.112, '07:20-07:40 UT', C_VA, 11.5)
note(ax_f, 27.07, 0.038, '00:48-00:56 UT', C_VB, 11.5)

note(ax_g, 22.84, 1.46, '01:16-01:30 UT', C_VA, 11.5)
note(ax_g, 22.78, 0.55, '03:25-03:55 UT', C_VB, 11.5)
note(ax_g, 25.05, 1.26, '00:07-00:20 UT', C_VB, 11.5)
note(ax_g, 26.68, 4.05, '00:48-00:56 UT', C_VB, 11.5)
note(ax_g, 28.10, 0.47, '07:20-07:40 UT', C_VA, 11.5)

# ---------- panel tags ----------
for ax, tag, x, y, wt in [(ax_a, '(a)', 0.055, 0.905, 'bold'), (ax_b, '(b)', 0.058, 0.895, 'bold'),
                          (ax_c, '(c)', 0.058, 0.91, 'bold'), (ax_d, '(d)', 0.04, 0.895, 'normal'),
                          (ax_e, '(e)', 0.042, 0.896, 'normal'), (ax_f, '(f)', 0.042, 0.895, 'bold'),
                          (ax_g, '(g)', 0.046, 0.909, 'normal')]:
    ax.text(x, y, tag, transform=ax.transAxes, fontsize=16, fontweight=wt, color='black',
            ha='center', va='center', zorder=6)

# ---------- axis titles ----------
for yc in (145, 378, 608):
    fig.text(10 / W, 1 - yc / H, 'f (Hz)', rotation=90, ha='center', va='center',
             fontsize=14, color=TICK_C)
fig.text(729 / W, 1 - 145 / H, 'B (nT)', rotation=90, ha='center', va='center', fontsize=14, color=TICK_C)
fig.text(729 / W, 1 - 376 / H, r'Rc (R$_{\mathbf{E}}$)', rotation=90, ha='center', va='center',
         fontsize=14, color=TICK_C)
fig.text(748 / W, 1 - 608 / H, r'Density (cm$^{\mathbf{-3}}$)', rotation=90, ha='center', va='center',
         fontsize=14, color=TICK_C)
fig.text(765 / W, 1 - 840 / H, 'Tperp/Tpar', rotation=90, ha='center', va='center', fontsize=14, color=TICK_C)
fig.text(19 / W, 1 - 733 / H, 'MLT', ha='center', va='center', fontsize=14, color=TEXT_C)
fig.text(752 / W, 1 - 967 / H, 'MLT', ha='center', va='center', fontsize=14, color=TEXT_C)

fig.savefig('out.png', dpi=100)
